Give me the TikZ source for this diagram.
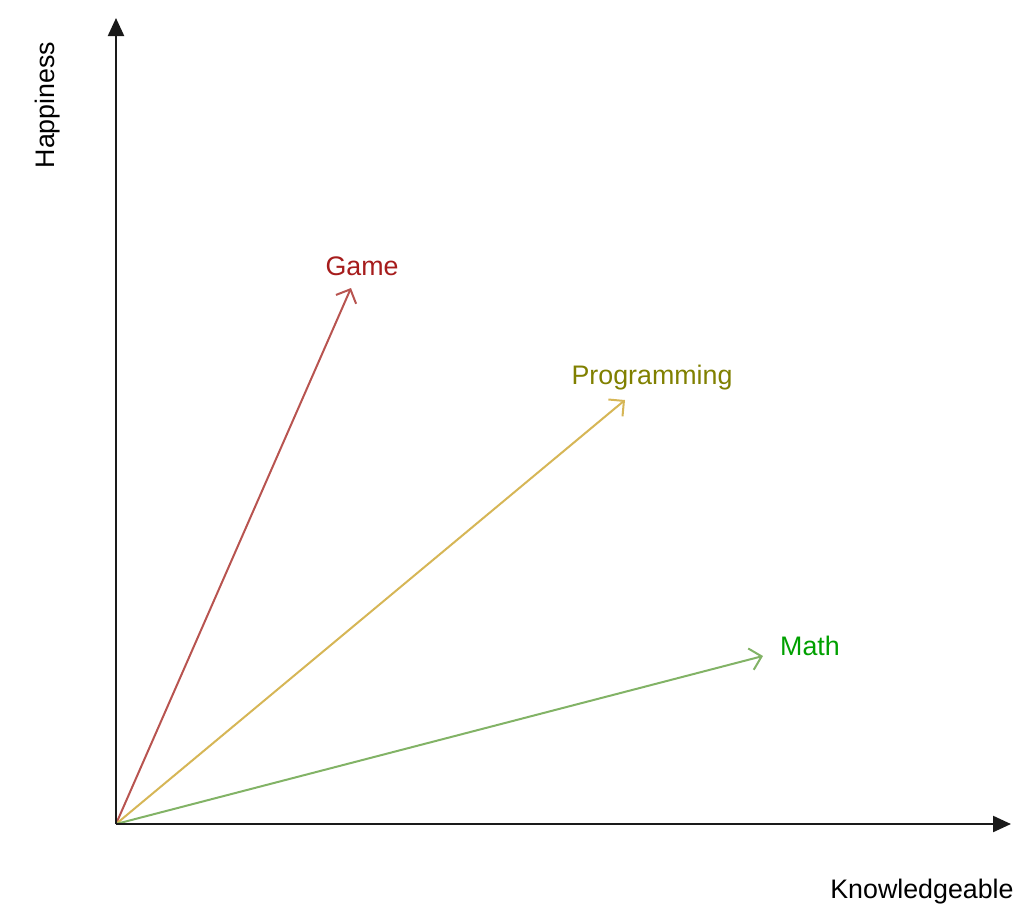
\documentclass[tikz,border=0pt]{standalone}
\usepackage{fontspec}
\setmainfont{Liberation Sans}
\usetikzlibrary{arrows.meta}
\definecolor{gameline}{HTML}{B85450}
\definecolor{gametext}{HTML}{A61C1C}
\definecolor{progline}{HTML}{D6B656}
\definecolor{progtext}{HTML}{808000}
\definecolor{mathline}{HTML}{82B366}
\definecolor{mathtext}{HTML}{00A000}
\definecolor{axiscol}{HTML}{1A1A1A}
\begin{document}
\begin{tikzpicture}[x=1pt,y=-1pt,
  axis/.style={draw=axiscol,line width=2.2pt,-{Triangle[length=18pt,width=16pt]}},
  vec/.style={line width=2pt,-{Straight Barb[length=11pt,width=22pt,line width=2pt]}},
  lbl/.style={font=\fontsize{26.8}{31}\selectfont,inner sep=0pt}]
\useasboundingbox (0,0) rectangle (1029,914);
\coordinate (O) at (116,824);
\coordinate (Ytip) at (116,18);
\coordinate (Xtip) at (1011,824);
\coordinate (G) at (351,288);
\coordinate (P) at (625,400);
\coordinate (M) at (763,656);
\draw[vec,draw=gameline] (O) -- (G);
\draw[vec,draw=progline] (O) -- (P);
\draw[vec,draw=mathline] (O) -- (M);
\draw[axis] (O) -- (Ytip);
\draw[axis] (O) -- (Xtip);
\node[lbl,text=gametext] (gl) at (362,266) {Game};
\node[lbl,text=progtext] (pl) at (652,378) {Programming};
\node[lbl,text=mathtext] (ml) at (810,646) {Math};
\node[lbl,text=black] (xl) at (922,892) {Knowledgeable};
\node[lbl,text=black,rotate=90] (yl) at (48,105) {Happiness};
\end{tikzpicture}
\end{document}
